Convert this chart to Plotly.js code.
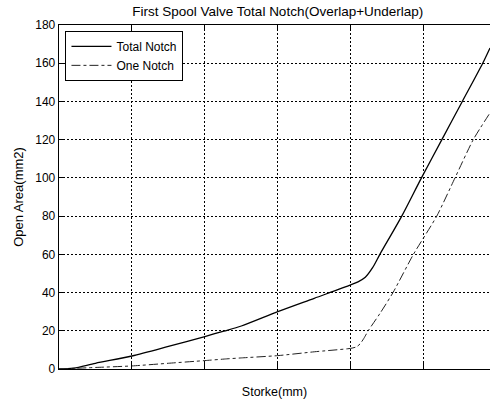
<!DOCTYPE html>
<html>
<head>
<meta charset="utf-8">
<script src="https://cdn.plot.ly/plotly-3.0.1.min.js"></script>
<style>
  html, body { margin: 0; padding: 0; background: #fff; overflow: hidden; }
  #chart { width: 490px; height: 409px; }
</style>
</head>
<body>
<div id="chart"></div>
<script>
// Stroke positions (axis units; gridlines every 1 unit, no tick labels shown)
const totalX = [0, 0.2, 0.5, 1, 1.5, 2, 2.26, 2.5, 3, 3.5, 4, 4.1, 4.2, 4.3, 4.4, 4.7, 4.97, 5.25, 5.53, 5.81, 5.91];
const totalY = [0, 0.4, 3, 6.8, 11.8, 17, 19.8, 22.5, 30, 37, 44, 45.6, 48, 53, 60, 80, 100, 120, 140, 160, 168];

const oneX = [0, 0.5, 1, 1.5, 2, 2.3, 2.5, 3, 3.5, 4, 4.08, 4.13, 4.18, 4.24, 4.4, 4.58, 4.86, 5.18, 5.43, 5.68, 5.91];
const oneY = [0, 0.8, 1.6, 3, 4.4, 5.3, 5.8, 7, 9, 10.8, 11.6, 13.2, 16, 20, 29, 40, 60, 80, 100, 120, 134];

const seriesNames = ["Total Notch", "One Notch"];
const yTicks = [0, 20, 40, 60, 80, 100, 120, 140, 160, 180];
const xTicks = [0, 1, 2, 3, 4, 5, 6];

const titleText = "First Spool Valve Total Notch(Overlap+Underlap)";
const xTitle = "Storke(mm)";
const yTitle = "Open Area(mm2)";

const FONT = "Arial, 'Liberation Sans', sans-serif";

const traces = [
  { x: totalX, y: totalY, name: seriesNames[0], type: "scatter", mode: "lines",
    line: { color: "#000", width: 1.3, dash: "solid", shape: "spline", smoothing: 0.8 } },
  { x: oneX, y: oneY, name: seriesNames[1], type: "scatter", mode: "lines",
    line: { color: "#222", width: 1, dash: "dashdot", shape: "spline", smoothing: 0.6 } }
];

const layout = {
  width: 490, height: 409,
  margin: { l: 59, r: 0, t: 25, b: 40, pad: 0 },
  paper_bgcolor: "#fff", plot_bgcolor: "#fff",
  font: { family: FONT, size: 12, color: "#000" },
  showlegend: true,
  title: {
    text: titleText,
    font: { family: FONT, size: 13.5, color: "#000" },
    xref: "container", x: 0.567, xanchor: "center",
    yref: "container", y: 1 - 11 / 409, yanchor: "middle"
  },
  xaxis: {
    range: [0, 5.91], tickvals: xTicks, showticklabels: false,
    ticks: "inside", ticklen: 6, tickcolor: "#000", tickwidth: 1,
    showline: true, linecolor: "#000", linewidth: 1.3, mirror: "ticks",
    showgrid: true, gridcolor: "#000", gridwidth: 1, griddash: "2px,2px",
    zeroline: false,
    title: { text: xTitle, font: { family: FONT, size: 12.5, color: "#000" }, standoff: 18 }
  },
  yaxis: {
    range: [0, 180], tickvals: yTicks, ticktext: yTicks.map(String),
    ticks: "inside", ticklen: 5, tickcolor: "#000", tickwidth: 1,
    showline: true, linecolor: "#000", linewidth: 1.3, mirror: false,
    showgrid: true, gridcolor: "#000", gridwidth: 1, griddash: "2px,2px",
    zeroline: false,
    tickfont: { family: FONT, size: 12, color: "#000" },
    title: { text: yTitle, font: { family: FONT, size: 13, color: "#000" }, standoff: 8 }
  },
  legend: {
    x: 0.015, xanchor: "left", y: 0.983, yanchor: "top",
    bgcolor: "#fff", bordercolor: "#000", borderwidth: 1,
    font: { family: FONT, size: 12, color: "#000" },
    itemwidth: 40, entrywidth: 120,
    tracegroupgap: 0
  }
};

Plotly.newPlot("chart", traces, layout, { displayModeBar: false, staticPlot: true });
</script>
</body>
</html>
